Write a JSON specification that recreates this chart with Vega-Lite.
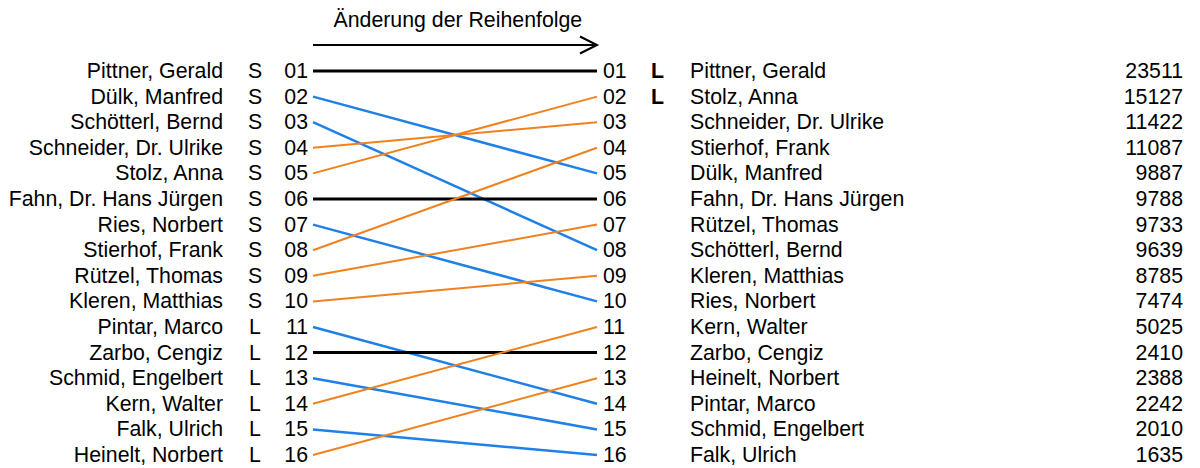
{
  "$schema": "https://vega.github.io/schema/vega-lite/v6.json",
  "width": 1200,
  "height": 468,
  "autosize": {"type": "fit", "contains": "padding"},
  "padding": 0,
  "background": "white",
  "config": {
    "view": {"stroke": null},
    "text": {"font": "Liberation Sans", "fontSize": 21.3, "color": "black", "baseline": "alphabetic", "dy": 7}
  },
  "data": {
    "values": [
      {"name": "Pittner, Gerald", "list": "S", "old": 1, "new": 1, "votes": 23511, "change": "same"},
      {"name": "Dülk, Manfred", "list": "S", "old": 2, "new": 5, "votes": 9887, "change": "down"},
      {"name": "Schötterl, Bernd", "list": "S", "old": 3, "new": 8, "votes": 9639, "change": "down"},
      {"name": "Schneider, Dr. Ulrike", "list": "S", "old": 4, "new": 3, "votes": 11422, "change": "up"},
      {"name": "Stolz, Anna", "list": "S", "old": 5, "new": 2, "votes": 15127, "change": "up"},
      {"name": "Fahn, Dr. Hans Jürgen", "list": "S", "old": 6, "new": 6, "votes": 9788, "change": "same"},
      {"name": "Ries, Norbert", "list": "S", "old": 7, "new": 10, "votes": 7474, "change": "down"},
      {"name": "Stierhof, Frank", "list": "S", "old": 8, "new": 4, "votes": 11087, "change": "up"},
      {"name": "Rützel, Thomas", "list": "S", "old": 9, "new": 7, "votes": 9733, "change": "up"},
      {"name": "Kleren, Matthias", "list": "S", "old": 10, "new": 9, "votes": 8785, "change": "up"},
      {"name": "Pintar, Marco", "list": "L", "old": 11, "new": 14, "votes": 2242, "change": "down"},
      {"name": "Zarbo, Cengiz", "list": "L", "old": 12, "new": 12, "votes": 2410, "change": "same"},
      {"name": "Schmid, Engelbert", "list": "L", "old": 13, "new": 15, "votes": 2010, "change": "down"},
      {"name": "Kern, Walter", "list": "L", "old": 14, "new": 11, "votes": 5025, "change": "up"},
      {"name": "Falk, Ulrich", "list": "L", "old": 15, "new": 16, "votes": 1635, "change": "down"},
      {"name": "Heinelt, Norbert", "list": "L", "old": 16, "new": 13, "votes": 2388, "change": "up"}
    ]
  },
  "layer": [
    {
      "data": {"values": [{"label": "Änderung der Reihenfolge"}]},
      "mark": {"type": "text", "align": "center"},
      "encoding": {
        "x": {"datum": 0.51, "type": "quantitative", "scale": {"domain": [-1.10211, 3.12324], "nice": false, "zero": false}, "axis": null},
        "y": {"datum": -0.9922, "type": "quantitative", "scale": {"domain": [-1.7734, 16.5078], "nice": false, "zero": false, "reverse": true}, "axis": null},
        "text": {"field": "label"}
      }
    },
    {
      "data": {"values": [{"label": "arrow"}]},
      "mark": {"type": "rule", "color": "black", "strokeWidth": 2},
      "encoding": {
        "x": {"datum": 0, "type": "quantitative", "scale": {"domain": [-1.10211, 3.12324], "nice": false, "zero": false}, "axis": null},
        "x2": {"datum": 1},
        "y": {"datum": -0.0156, "type": "quantitative", "scale": {"domain": [-1.7734, 16.5078], "nice": false, "zero": false, "reverse": true}, "axis": null}
      }
    },
    {
      "data": {"values": [{"label": "arrowhead"}]},
      "mark": {"type": "point", "shape": "M-1,-0.5L0,0L-1,0.5", "filled": false, "stroke": "black", "strokeWidth": 2, "size": 1156, "opacity": 1},
      "encoding": {
        "x": {"datum": 1, "type": "quantitative", "scale": {"domain": [-1.10211, 3.12324], "nice": false, "zero": false}, "axis": null},
        "y": {"datum": -0.0156, "type": "quantitative", "scale": {"domain": [-1.7734, 16.5078], "nice": false, "zero": false, "reverse": true}, "axis": null}
      }
    },
    {
      "mark": {"type": "rule"},
      "encoding": {
        "x": {"datum": 0, "type": "quantitative", "scale": {"domain": [-1.10211, 3.12324], "nice": false, "zero": false}, "axis": null},
        "x2": {"datum": 1},
        "y": {"field": "old", "type": "quantitative", "scale": {"domain": [-1.7734, 16.5078], "nice": false, "zero": false, "reverse": true}, "axis": null},
        "y2": {"field": "new"},
        "color": {"field": "change", "type": "nominal", "scale": {"domain": ["same", "down", "up"], "range": ["#000000", "#1f80e8", "#f0821e"]}, "legend": null},
        "strokeWidth": {"field": "change", "type": "nominal", "scale": {"domain": ["same", "down", "up"], "range": [3, 2, 2]}, "legend": null}
      }
    },
    {
      "mark": {"type": "text", "align": "right"},
      "encoding": {
        "x": {"datum": -0.3169, "type": "quantitative", "scale": {"domain": [-1.10211, 3.12324], "nice": false, "zero": false}, "axis": null},
        "y": {"field": "old", "type": "quantitative", "scale": {"domain": [-1.7734, 16.5078], "nice": false, "zero": false, "reverse": true}, "axis": null},
        "text": {"field": "name"}
      }
    },
    {
      "mark": {"type": "text", "align": "center"},
      "encoding": {
        "x": {"datum": -0.2042, "type": "quantitative", "scale": {"domain": [-1.10211, 3.12324], "nice": false, "zero": false}, "axis": null},
        "y": {"field": "old", "type": "quantitative", "scale": {"domain": [-1.7734, 16.5078], "nice": false, "zero": false, "reverse": true}, "axis": null},
        "text": {"field": "list"}
      }
    },
    {
      "mark": {"type": "text", "align": "right", "dx": -5},
      "encoding": {
        "x": {"datum": 0, "type": "quantitative", "scale": {"domain": [-1.10211, 3.12324], "nice": false, "zero": false}, "axis": null},
        "y": {"field": "old", "type": "quantitative", "scale": {"domain": [-1.7734, 16.5078], "nice": false, "zero": false, "reverse": true}, "axis": null},
        "text": {"field": "old", "type": "quantitative", "format": "02d"}
      }
    },
    {
      "mark": {"type": "text", "align": "left", "dx": 6},
      "encoding": {
        "x": {"datum": 1, "type": "quantitative", "scale": {"domain": [-1.10211, 3.12324], "nice": false, "zero": false}, "axis": null},
        "y": {"field": "new", "type": "quantitative", "scale": {"domain": [-1.7734, 16.5078], "nice": false, "zero": false, "reverse": true}, "axis": null},
        "text": {"field": "new", "type": "quantitative", "format": "02d"}
      }
    },
    {
      "transform": [{"filter": "datum.new <= 2"}],
      "mark": {"type": "text", "align": "center", "fontWeight": "bold"},
      "encoding": {
        "x": {"datum": 1.213, "type": "quantitative", "scale": {"domain": [-1.10211, 3.12324], "nice": false, "zero": false}, "axis": null},
        "y": {"field": "new", "type": "quantitative", "scale": {"domain": [-1.7734, 16.5078], "nice": false, "zero": false, "reverse": true}, "axis": null},
        "text": {"value": "L"}
      }
    },
    {
      "mark": {"type": "text", "align": "left"},
      "encoding": {
        "x": {"datum": 1.3275, "type": "quantitative", "scale": {"domain": [-1.10211, 3.12324], "nice": false, "zero": false}, "axis": null},
        "y": {"field": "new", "type": "quantitative", "scale": {"domain": [-1.7734, 16.5078], "nice": false, "zero": false, "reverse": true}, "axis": null},
        "text": {"field": "name"}
      }
    },
    {
      "mark": {"type": "text", "align": "right"},
      "encoding": {
        "x": {"datum": 3.0634, "type": "quantitative", "scale": {"domain": [-1.10211, 3.12324], "nice": false, "zero": false}, "axis": null},
        "y": {"field": "new", "type": "quantitative", "scale": {"domain": [-1.7734, 16.5078], "nice": false, "zero": false, "reverse": true}, "axis": null},
        "text": {"field": "votes", "type": "quantitative", "format": "d"}
      }
    }
  ]
}
